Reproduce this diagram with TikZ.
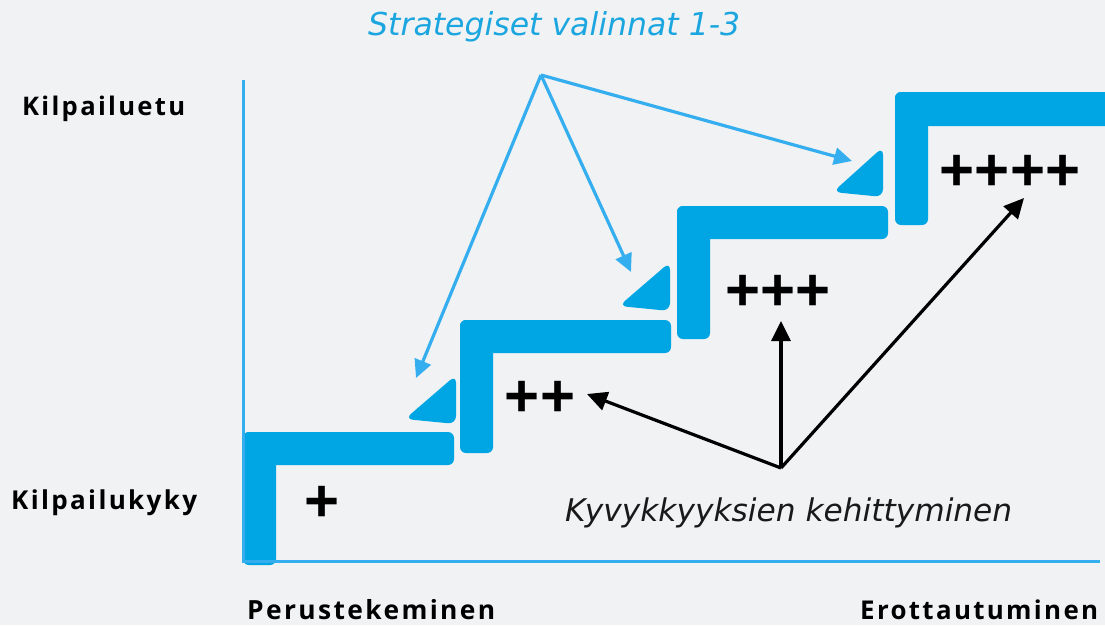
\documentclass[tikz,border=0pt]{standalone}
\usepackage{fontspec}
\setmainfont{DejaVu Sans}
\newfontfamily\lblfont{Open Sans}[LetterSpace=9]
\newfontfamily\plusfont{Liberation Sans}
\newfontfamily\itfont{DejaVu Sans}
\usetikzlibrary{arrows.meta}
\definecolor{bgcol}{HTML}{F1F2F4}
\definecolor{stepblue}{HTML}{00A6E3}
\definecolor{lineblue}{HTML}{35AEF0}
\definecolor{titleblue}{HTML}{1BA6E0}
\tikzset{
  stepbar/.style={fill=stepblue, rounded corners=6pt},
  tri/.style={fill=stepblue, rounded corners=8pt},
  axisline/.style={draw=lineblue, line width=3pt},
  bluearrow/.style={draw=lineblue, line width=3.2pt, -{Triangle[length=18pt,width=17pt]}},
  blackarrow/.style={draw=black, line width=3.2pt, -{Triangle[length=20pt,width=19pt]}},
  plusnode/.style={anchor=base, inner sep=0pt, font=\plusfont\bfseries\fontsize{60}{60}\selectfont},
  lbl/.style={anchor=base west, inner sep=0pt},
}
\newcommand{\lbltext}[2]{\resizebox{#1pt}{!}{\lblfont\bfseries\fontsize{24}{24}\selectfont #2}}
\newcommand{\ittext}[2]{\resizebox{#1pt}{!}{\itfont\itshape\fontsize{28}{28}\selectfont #2}}
\begin{document}
\begin{tikzpicture}[x=1pt,y=-1pt]
\useasboundingbox (0,0) rectangle (1105,625);
\fill[bgcol] (0,0) rectangle (1105,625);
% steps
\foreach \k/\sx/\sy in {0/243/432, 1/460/320, 2/677/206, 3/895/92}{
  \fill[stepbar] (\sx,\sy) rectangle ++(33,133);
  \ifnum\k<3
    \fill[stepbar] (\sx,\sy) rectangle ++(211,33);
  \else
    \fill[stepbar] (\sx,\sy) rectangle ++(260,34);
  \fi
}
% triangles
\fill[tri] (405,419) -- (456,375) -- (456,424) -- cycle;
\fill[tri] (619,306) -- (670,262) -- (670,311) -- cycle;
\fill[tri] (833,192) -- (883,147) -- (883,197) -- cycle;
% axes
\coordinate (ytop) at (243,80);
\coordinate (origin) at (243,561);
\coordinate (xend) at (1100,561);
\draw[axisline] (ytop) -- (origin) -- (xend);
% plus signs
\node[plusnode] (p1) at (322,521) {+};
\node[plusnode] (p2) at (540,416) {++};
\node[plusnode] (p3) at (778,310) {+++};
\node[plusnode] (p4) at (1010,190) {++++};
% blue arrows
\coordinate (sapex) at (541,75);
\coordinate (s1) at (416,378);
\coordinate (s2) at (631,272);
\coordinate (s3) at (852,161);
\draw[bluearrow] (sapex) -- (s1);
\draw[bluearrow] (sapex) -- (s2);
\draw[bluearrow] (sapex) -- (s3);
% black arrows
\coordinate (kapex) at (781,468);
\coordinate (k2) at (587,394);
\coordinate (k3) at (781,321);
\coordinate (k4) at (1024,198);
\draw[blackarrow] (kapex) -- (k2);
\draw[blackarrow] (kapex) -- (k3);
\draw[blackarrow] (kapex) -- (k4);
% labels
\node[lbl] (ketu) at (22,115) {\lbltext{163}{Kilpailuetu}};
\node[lbl] (kkyky) at (11,509) {\lbltext{186}{Kilpailukyky}};
\node[lbl] (perus) at (247,619) {\lbltext{248}{Perustekeminen}};
\node[lbl] (erott) at (860,619) {\lbltext{238}{Erottautuminen}};
\node[lbl, text=titleblue] (strat) at (368,35) {\ittext{372}{Strategiset valinnat 1-3}};
\node[lbl, text=black!90] (kyvy) at (565,521) {\ittext{447}{Kyvykkyyksien kehittyminen}};
\end{tikzpicture}
\end{document}
